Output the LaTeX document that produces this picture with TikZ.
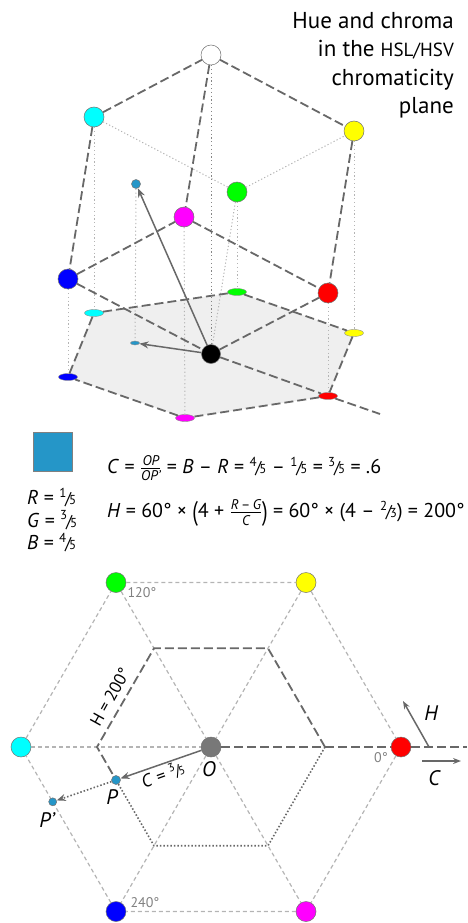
\documentclass[tikz,border=0pt]{standalone}
\usepackage{fontspec}
\setmainfont{PT Sans}
\usepackage{amsmath}
\usepackage{graphicx}
\usepackage{xcolor}
\usepackage{tikz}
\usetikzlibrary{positioning, arrows.meta, shapes.geometric, backgrounds}
\definecolor{darkline}{HTML}{686868}
\definecolor{lightline}{HTML}{B4B4B4}
\definecolor{planegray}{HTML}{EFEFEF}
\definecolor{swatchblue}{HTML}{2596C8}
\definecolor{anglegray}{HTML}{808080}
\definecolor{huecyan}{HTML}{00FFFF}
\definecolor{huemagenta}{HTML}{FF00FF}
\definecolor{huegreen}{HTML}{00FF00}
\definecolor{hueyellow}{HTML}{FFFF00}
\definecolor{huered}{HTML}{FF0000}
\definecolor{hueblue}{HTML}{0000FF}
\newcommand\vfr[2]{\raisebox{.36em}{\scalebox{.65}{#1}}\kern-.06em\scalebox{.85}{/}\kern-.1em\scalebox{.65}{#2}}
\newcommand\bigpar[1]{\raisebox{-.12em}{\scalebox{1}[1.35]{#1}}}

\begin{document}
\begin{tikzpicture}[x=1pt, y=-1pt,
    every node/.style={font=\fontsize{20}{24}\selectfont},
    ball/.style={circle, draw=black!55, line width=0.5pt, minimum size=20pt, inner sep=0pt},
    spot/.style={ball, fill=swatchblue, minimum size=9pt},
    flat/.style={ellipse, draw=black!45, line width=0.4pt, minimum width=19pt, minimum height=7pt, inner sep=0pt},
    rim/.style={draw=darkline, line width=1.8pt, dash pattern=on 9pt off 4pt},
    back/.style={draw=lightline, line width=1pt, dash pattern=on 1.2pt off 2.2pt},
    drop/.style={draw=lightline, line width=1pt, dash pattern=on 1.2pt off 2.6pt},
    grid/.style={draw=lightline, line width=1.2pt, dash pattern=on 4pt off 3pt},
    rest/.style={draw=darkline, line width=1.6pt, dash pattern=on 1.5pt off 2pt},
    vec/.style={-{Stealth[length=9pt, width=7pt]}, draw=darkline, line width=1.5pt},
    deg/.style={text=anglegray, font=\fontsize{14}{16}\selectfont},
    lbl/.style={font=\itshape\fontsize{21}{24}\selectfont, inner sep=0pt}
]
\useasboundingbox (0,0) rectangle (467,923);

\node[align=right, anchor=north east, inner sep=0pt, font=\fontsize{23}{28.5}\selectfont] (title) at (454,12)
    {Hue and chroma\\in the {\fontsize{19}{28.5}\selectfont HSL/HSV}\\chromaticity\\plane};

\node[ball, fill=white] (W) at (211,55) {};
\node[ball, fill=huecyan] (Cy) at (94,117) {};
\node[ball, fill=hueyellow] (Ye) at (354,131) {};
\node[ball, fill=huegreen] (Gr) at (237,192) {};
\node[ball, fill=huemagenta] (Ma) at (184,217) {};
\node[ball, fill=hueblue] (Bl) at (68,279) {};
\node[ball, fill=huered] (Rd) at (328,293) {};
\node[ball, fill=black, minimum size=19pt] (K) at (211,354) {};
\node[spot] (Pt) at (136,184) {};

\node[flat, fill=huecyan] (cyp) at (94,313) {};
\node[flat, fill=huegreen] (grp) at (237,292) {};
\node[flat, fill=hueyellow] (yep) at (354,333) {};
\node[flat, fill=huered] (rdp) at (328,396) {};
\node[flat, fill=huemagenta] (map) at (185,418) {};
\node[flat, fill=hueblue] (blp) at (68,377) {};
\node[flat, fill=swatchblue, minimum width=9pt, minimum height=4pt] (ptp) at (135,343) {};
\coordinate (axend) at (380,414);

\begin{scope}[on background layer]
\fill[planegray] (cyp.center) -- (grp.center) -- (yep.center) -- (rdp.center) -- (map.center) -- (blp.center) -- cycle;
\end{scope}

\draw[back] (Cy) -- (Gr) -- (Ye);
\draw[back] (Gr) -- (K);
\draw[drop] (Cy) -- (cyp);
\draw[drop] (Ye) -- (yep);
\draw[drop] (Gr) -- (grp);
\draw[drop] (Ma) -- (map);
\draw[drop] (Bl) -- (blp);
\draw[drop] (Rd) -- (rdp);
\draw[drop] (Pt) -- (ptp);
\draw[drop, draw=darkline!80] (W) -- (K);

\draw[rim] (Cy) -- (W) -- (Ye);
\draw[rim] (W) -- (Ma);
\draw[rim] (Cy) -- (Bl);
\draw[rim] (Ye) -- (Rd);
\draw[rim] (Bl) -- (Ma) -- (Rd);
\draw[rim] (Bl) -- (K) -- (Rd);
\draw[rim] (cyp) -- (grp) -- (yep) -- (rdp) -- (map) -- (blp) -- (cyp);
\draw[rim] (K) -- (rdp);
\draw[rim] (rdp) -- (axend);

\draw[vec] (K) -- (Pt);
\draw[vec] (K) -- (ptp);

\node[draw=black!50, line width=0.5pt, fill=swatchblue, minimum size=39pt, inner sep=0pt] (swatch) at (52.5,451.5) {};
\node[align=left, anchor=west, inner sep=0pt, font=\fontsize{20}{22.5}\selectfont] (rgb) at (27,520)
    {\textit{R} = \vfr15\\\textit{G} = \vfr35\\\textit{B} = \vfr45};
\node[anchor=west, inner sep=0pt] (chroma) at (107,468)
    {\textit{C} = $\frac{\textit{OP}}{\textit{OP'}}$ = \textit{B} – \textit{R} = \vfr45 – \vfr15 = \vfr35 = .6};
\node[anchor=west, inner sep=0pt] (hue) at (107,513)
    {\textit{H} = 60° × \bigpar{(}4 + $\frac{\textit{R}\,\text{–}\,\textit{G}}{\textit{C}}$\bigpar{)} = 60° × (4 – \vfr23) = 200°};

\node[ball, fill=huered] (R0) at (401,747) {};
\node[ball, fill=hueyellow] (Y0) at (306,582.5) {};
\node[ball, fill=huegreen] (G0) at (116,582.5) {};
\node[ball, fill=huecyan] (C0) at (21,747) {};
\node[ball, fill=hueblue] (B0) at (116,911.5) {};
\node[ball, fill=huemagenta] (M0) at (306,911.5) {};
\node[ball, fill=black!53] (O) at (211,747) {};
\coordinate (h0) at (325,747);
\coordinate (h60) at (268,648.3);
\coordinate (h120) at (154,648.3);
\coordinate (h180) at (97,747);
\coordinate (h240) at (154,845.7);
\coordinate (h300) at (268,845.7);
\coordinate (axis) at (467,747);

\draw[grid] (G0) -- (Y0) -- (R0) -- (M0) -- (B0) -- (C0) -- (G0);
\draw[grid] (C0) -- (O);
\draw[grid] (G0) -- (O) -- (M0);
\draw[grid] (Y0) -- (O) -- (B0);
\draw[rim] (O) -- (R0);
\draw[rim] (R0) -- (axis);

\node[spot] (P) at (116,780) {};
\node[spot, minimum size=8pt] (Pq) at (52.7,801.8) {};
\draw[rim] (h0) -- (h60) -- (h120) -- (h180) -- (P);
\draw[rest] (P) -- (h240) -- (h300) -- (h0);
\draw[vec] (O) -- (P);
\draw[vec, rest] (P) -- (Pq);

\node[lbl] (Olbl) at (209,769) {O};
\node[lbl] (Plbl) at (112,797) {P};
\node[lbl] (Pqlbl) at (47,820) {P'};
\node[rotate=20, inner sep=0pt, font=\fontsize{18}{20}\selectfont] (clbl) at (163,775) {\textit{C} = \vfr35};
\node[rotate=61, inner sep=0pt, font=\fontsize{17}{20}\selectfont] (hlbl) at (110,697) {H = 200°};
\node[deg] (d120) at (142,593) {120°};
\node[deg] (d240) at (145,903) {240°};
\node[deg] (d0) at (381,758) {0°};

\coordinate (hbase) at (429,747);
\coordinate (htip) at (403,701);
\coordinate (cbase) at (422,761);
\coordinate (ctip) at (461,761);
\draw[vec, -{Stealth[length=8pt, width=6pt]}] (hbase) -- (htip);
\draw[vec, -{Stealth[length=8pt, width=6pt]}] (cbase) -- (ctip);
\node[lbl] (hax) at (431,713) {H};
\node[lbl] (cax) at (434,778) {C};
\end{tikzpicture}
\end{document}
